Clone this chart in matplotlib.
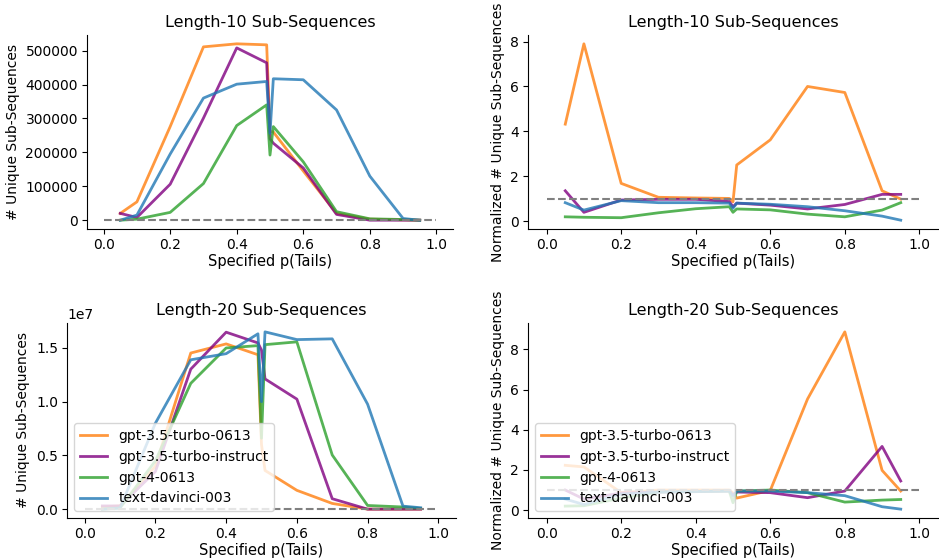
import matplotlib
matplotlib.use("Agg")
import matplotlib.pyplot as plt
import numpy as np

p_tails = [0.05, 0.1, 0.2, 0.3, 0.4, 0.49, 0.5, 0.51, 0.6, 0.7, 0.8, 0.9, 0.95]
models = ["gpt-3.5-turbo-0613", "gpt-3.5-turbo-instruct", "gpt-4-0613", "text-davinci-003"]
colors = ["#ff7f0e", "purple", "#2ca02c", "#1f77b4"]

# Length-10 raw counts
l10_turbo = [20000, 54000, 276000, 511000, 520000, 517000, 262000, 260000, 145000, 20000, 3000, 1000, 0]
l10_instruct = [20000, 8000, 106000, 301000, 508000, 464000, 240000, 227000, 154000, 17000, 0, 0, 0]
l10_gpt4 = [0, 3000, 23000, 108000, 279000, 340000, 192000, 276000, 172000, 25000, 4000, 2000, 0]
l10_davinci = [0, 15000, 195000, 360000, 401000, 409000, 256000, 417000, 414000, 325000, 130000, 5000, 0]

# Length-10 normalized
l10n_turbo = [4.32, 7.9, 1.68, 1.06, 1.03, 1.01, 0.86, 2.5, 3.62, 6.0, 5.73, 1.35, 0.98]
l10n_instruct = [1.35, 0.39, 0.94, 0.97, 0.97, 0.87, 0.64, 0.8, 0.71, 0.54, 0.74, 1.19, 1.19]
l10n_gpt4 = [0.19, 0.17, 0.15, 0.37, 0.55, 0.64, 0.39, 0.54, 0.5, 0.31, 0.19, 0.49, 0.82]
l10n_davinci = [0.82, 0.49, 0.91, 0.82, 0.82, 0.8, 0.57, 0.8, 0.75, 0.64, 0.46, 0.22, 0.04]

# Length-20 raw counts
l20_turbo = [0.02e7, 0.03e7, 0.40e7, 1.453e7, 1.538e7, 1.437e7, 0.6e7, 0.36e7, 0.175e7, 0.053e7, 0.0, 0.0, 0.0]
l20_instruct = [0.03e7, 0.03e7, 0.35e7, 1.303e7, 1.647e7, 1.547e7, 1.48e7, 1.212e7, 1.024e7, 0.097e7, 0.0, 0.0, 0.0]
l20_gpt4 = [0.0, 0.01e7, 0.45e7, 1.171e7, 1.5e7, 1.522e7, 0.66e7, 1.531e7, 1.557e7, 0.504e7, 0.034e7, 0.02e7, 0.006e7]
l20_davinci = [0.0, 0.01e7, 0.8e7, 1.39e7, 1.447e7, 1.632e7, 1.0e7, 1.65e7, 1.578e7, 1.585e7, 0.977e7, 0.028e7, 0.013e7]

# Length-20 normalized
l20n_turbo = [2.23, 2.15, 0.87, 1.0, 1.0, 1.0, 0.85, 0.6, 0.98, 5.53, 8.87, 1.98, 0.95]
l20n_instruct = [1.0, 0.55, 0.85, 0.9, 0.92, 0.95, 0.75, 0.9, 0.87, 0.62, 0.95, 3.17, 1.45]
l20n_gpt4 = [0.2, 0.22, 0.6, 0.9, 0.93, 0.95, 0.37, 0.95, 1.0, 0.87, 0.4, 0.5, 0.53]
l20n_davinci = [0.55, 0.28, 0.8, 0.9, 0.93, 0.95, 0.7, 0.95, 0.95, 0.87, 0.72, 0.17, 0.05]

plt.rcParams["font.family"] = ["DejaVu Sans"]
plt.rcParams["font.size"] = 10

fig = plt.figure(figsize=(9.39, 5.6), dpi=100)
W, H = 939, 560

def box(x0, x1, y0, y1):
    return [x0 / W, 1 - y1 / H, (x1 - x0) / W, (y1 - y0) / H]

ax_tl = fig.add_axes(box(87, 453, 35, 229))
ax_tr = fig.add_axes(box(528, 938, 35, 229))
ax_bl = fig.add_axes(box(67, 456, 323, 518))
ax_br = fig.add_axes(box(528, 938, 323, 518))

panels = [
    (ax_tl, [l10_turbo, l10_instruct, l10_gpt4, l10_davinci], 0, "Length-10 Sub-Sequences", "# Unique Sub-Sequences", False),
    (ax_tr, [l10n_turbo, l10n_instruct, l10n_gpt4, l10n_davinci], 1, "Length-10 Sub-Sequences", "Normalized # Unique Sub-Sequences", False),
    (ax_bl, [l20_turbo, l20_instruct, l20_gpt4, l20_davinci], 0, "Length-20 Sub-Sequences", "# Unique Sub-Sequences", True),
    (ax_br, [l20n_turbo, l20n_instruct, l20n_gpt4, l20n_davinci], 1, "Length-20 Sub-Sequences", "Normalized # Unique Sub-Sequences", True),
]

for ax, series, ref, title, ylabel, legend in panels:
    for name, vals, c in zip(models, series, colors):
        ax.plot(p_tails, vals, color=c, lw=2, alpha=0.8, label=name)
    ax.plot([0, 1], [ref, ref], color="gray", ls="--", lw=1.5)
    ax.set_title(title, fontsize=11.5)
    ax.set_xlabel("Specified p(Tails)", fontsize=10.5, labelpad=1.5)
    ax.set_ylabel(ylabel, fontsize=10)
    ax.set_xticks([0.0, 0.2, 0.4, 0.6, 0.8, 1.0])
    ax.tick_params(labelsize=10, pad=3)
    ax.spines["top"].set_visible(False)
    ax.spines["right"].set_visible(False)
    if legend:
        ax.legend(loc="lower left", fontsize=10)

ax_tr.set_yticks([0, 2, 4, 6, 8])
ax_bl.set_yticks([0, 0.5e7, 1.0e7, 1.5e7])

fig.savefig("out.png", dpi=100)
